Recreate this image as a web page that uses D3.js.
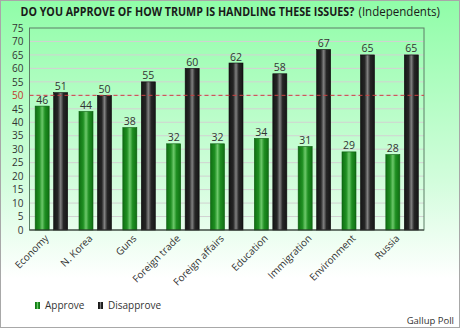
<!DOCTYPE html>
<html><head><meta charset="utf-8">
<script src="https://cdn.jsdelivr.net/npm/d3@7"></script>
<style>body{margin:0;padding:0;overflow:hidden}svg{display:block}</style>
</head><body>
<script>
const categories = ["Economy","N. Korea","Guns","Foreign trade","Foreign affairs","Education","Immigration","Environment","Russia"];
const approve = [46,44,38,32,32,34,31,29,28];
const disapprove = [51,50,55,60,62,58,67,65,65];
const seriesNames = ["Approve","Disapprove"];
const yTicks = d3.range(0,76,5);
const refValue = 50;
const titleBold = "DO YOU APPROVE OF HOW TRUMP IS HANDLING THESE ISSUES?";
const titleRest = "(Independents)";
const source = "Gallup Poll";

const W=460,H=328;
const m={l:29.5,r:36,t:28,b:98};
const svg=d3.select("body").append("svg").attr("width",W).attr("height",H);
const defs=svg.append("defs");
const bg=defs.append("linearGradient").attr("id","bg").attr("x1",0).attr("y1",0).attr("x2",0).attr("y2",1);
bg.append("stop").attr("offset","0").attr("stop-color","#90fda8");
bg.append("stop").attr("offset","0.55").attr("stop-color","#d2fddc");
bg.append("stop").attr("offset","0.85").attr("stop-color","#ffffff");
bg.append("stop").attr("offset","1").attr("stop-color","#ffffff");
function cyl(id,edge,mid,light){
  const g=defs.append("linearGradient").attr("id",id).attr("x1",0).attr("x2",1).attr("y1",0).attr("y2",0);
  g.append("stop").attr("offset","0").attr("stop-color",edge);
  g.append("stop").attr("offset","0.3").attr("stop-color",mid);
  g.append("stop").attr("offset","0.5").attr("stop-color",light);
  g.append("stop").attr("offset","0.7").attr("stop-color",mid);
  g.append("stop").attr("offset","1").attr("stop-color",edge);
}
cyl("gG","#0f6f12","#1f8f22","#6cc86a");
cyl("gB","#161616","#262626","#808080");

svg.append("rect").attr("x",0.5).attr("y",0.5).attr("width",W-1).attr("height",H-1)
  .attr("fill","url(#bg)").attr("stroke","#a8a8a8").attr("stroke-width",1);

const font="'Open Sans', 'DejaVu Sans', sans-serif";
const x=d3.scaleBand().domain(categories).range([m.l,W-m.r]);
const y=d3.scaleLinear().domain([0,75]).range([H-m.b,m.t]);

// gridlines
svg.append("g").selectAll("line").data(yTicks.filter(d=>d>0&&d<75)).join("line")
  .attr("x1",m.l).attr("x2",W-m.r).attr("y1",d=>y(d)).attr("y2",d=>y(d))
  .attr("stroke","#d2d2d2").attr("stroke-width",1);

// frame
svg.append("rect").attr("x",m.l).attr("y",y(75)).attr("width",W-m.r-m.l).attr("height",y(0)-y(75))
  .attr("fill","none").attr("stroke","#5c7f66").attr("stroke-width",1);

// y axis labels
const yAxis=d3.axisLeft(y).tickValues(yTicks).tickSize(0).tickPadding(6);
const ya=svg.append("g").attr("transform",`translate(${m.l},0)`).call(yAxis);
ya.select(".domain").remove();
ya.selectAll("text").attr("font-family",font).attr("font-size",10).attr("fill",d=>d===refValue?"#c0392b":"#333");

const bw=14, gap=4.5;
const data=categories.map((c,i)=>({c,vals:[approve[i],disapprove[i]]}));
const grp=svg.append("g").selectAll("g").data(data).join("g")
  .attr("transform",d=>`translate(${x(d.c)+x.bandwidth()/2-(2*bw+gap)/2},0)`);
grp.selectAll("rect").data(d=>d.vals).join("rect")
  .attr("x",(d,i)=>i*(bw+gap)).attr("y",d=>y(d)).attr("width",bw).attr("height",d=>y(0)-y(d))
  .attr("fill",(d,i)=>i===0?"url(#gG)":"url(#gB)")
  .attr("stroke",(d,i)=>i===0?"#0c5a0e":"#0a0a0a").attr("stroke-width",0.6);
grp.selectAll("text").data(d=>d.vals).join("text")
  .attr("x",(d,i)=>i*(bw+gap)+bw/2).attr("y",d=>y(d)-2.5)
  .attr("text-anchor","middle").attr("font-family",font).attr("font-size",10.5).attr("fill","#333")
  .text(d=>d);

// reference line
svg.append("line").attr("x1",m.l).attr("x2",W-m.r).attr("y1",y(refValue)).attr("y2",y(refValue))
  .attr("stroke","#c94040").attr("stroke-width",1).attr("stroke-dasharray","4,3");

// x axis
svg.append("line").attr("x1",m.l).attr("x2",W-m.r).attr("y1",y(0)).attr("y2",y(0)).attr("stroke","#333");
const xa=svg.append("g").attr("transform",`translate(0,${y(0)})`).call(d3.axisBottom(x).tickSize(0).tickPadding(0));
xa.select(".domain").remove();
xa.selectAll("text").attr("font-family",font).attr("font-size",10).attr("fill","#333")
  .attr("text-anchor","end").attr("dy",0)
  .attr("transform",function(){return "translate(-2,9) rotate(-45)";});

// title: two parts, each scaled horizontally to the reference's width
function fitText(str,x0,width,bold){
  const el=svg.append("text").attr("x",0).attr("y",0).attr("font-family",font).attr("font-size",12)
    .attr("font-weight",bold?"bold":"normal").attr("fill","#1a1a1a").text(str);
  const w=el.node().getComputedTextLength();
  el.attr("transform",`translate(${x0},16) scale(${width/w},1)`);
}
fitText(titleBold,20.5,334,true);
fitText(titleRest,358.5,81.5,false);

// legend
const lg=svg.append("g").attr("transform","translate(35,302)");
seriesNames.forEach((n,i)=>{
  const g=lg.append("g").attr("transform",`translate(${i*63},0)`);
  g.append("rect").attr("width",5).attr("height",7).attr("fill",i===0?"url(#gG)":"url(#gB)");
  g.append("text").attr("x",10).attr("y",7).attr("font-family",font).attr("font-size",10).attr("fill","#333").text(n);
});
svg.append("text").attr("x",W-6).attr("y",324).attr("text-anchor","end")
  .attr("font-family",font).attr("font-size",9.5).attr("fill","#333").text(source);
</script>
</body></html>
